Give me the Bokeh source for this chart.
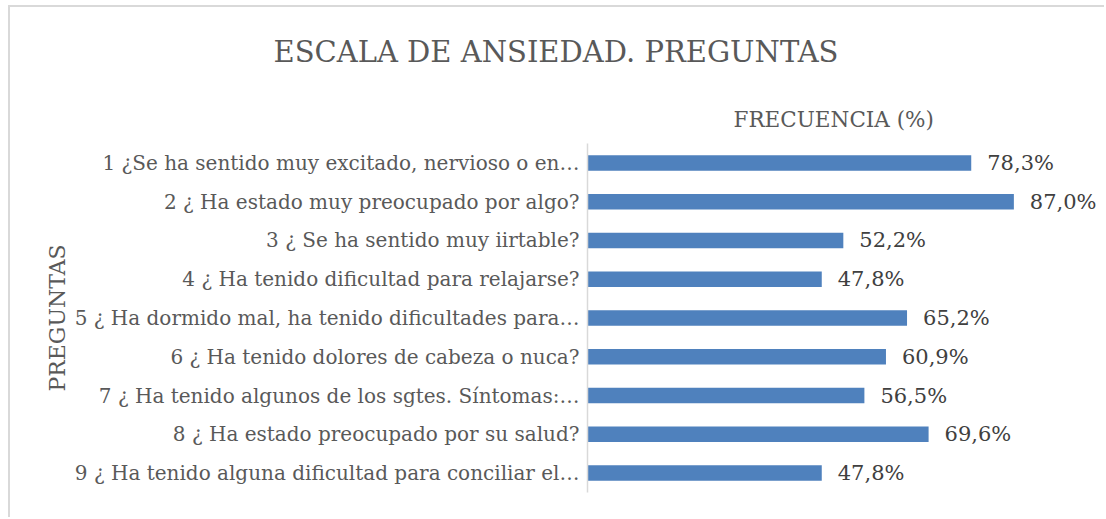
from bokeh.plotting import figure
from bokeh.models import ColumnDataSource, FactorRange, LabelSet, Range1d, Title
from bokeh.embed import file_html
from bokeh.resources import INLINE
from bokeh.core.properties import value

questions = [
    "1 ¿Se ha sentido muy excitado, nervioso o en…",
    "2 ¿ Ha estado muy preocupado por algo?",
    "3 ¿ Se ha sentido muy iirtable?",
    "4 ¿ Ha tenido dificultad para relajarse?",
    "5 ¿ Ha dormido mal, ha tenido dificultades para…",
    "6 ¿ Ha tenido dolores de cabeza o nuca?",
    "7 ¿ Ha tenido algunos de los sgtes. Síntomas:…",
    "8 ¿ Ha estado preocupado por su salud?",
    "9 ¿ Ha tenido alguna dificultad para conciliar el…",
]
frecuencia = [78.3, 87.0, 52.2, 47.8, 65.2, 60.9, 56.5, 69.6, 47.8]

title_text = "ESCALA DE ANSIEDAD. PREGUNTAS"
x_title = "FRECUENCIA (%)"
y_title = "PREGUNTAS"

FONT = "DejaVu Serif"

labels = [f"{v:.1f}%".replace(".", ",") for v in frecuencia]
src = ColumnDataSource(dict(q=questions, v=frecuencia, lbl=labels))

p = figure(
    width=1096, height=512,
    title=None,
    y_range=FactorRange(*reversed(questions)),
    x_range=Range1d(0, 105.9),
    x_axis_location=None,
    output_backend="svg", toolbar_location=None,
    min_border_left=577, min_border_right=0,
    min_border_top=136, min_border_bottom=27,
)
# chart-area border on the left and top edges
p.styles = {"margin-left": "10px", "margin-top": "7px",
            "box-shadow": "-2px -2px 0 #d9d9d9"}
p.outline_line_color = None
p.xgrid.visible = False
p.ygrid.visible = False

# axis title for x (shown above the bars)
xt = Title(text=x_title, text_font=FONT, text_font_size="21.5px",
           text_font_style="normal", text_color="#595959",
           align="left", offset=146, standoff=24)
p.add_layout(xt, "above")

# main title
mt = Title(text=title_text, text_font=FONT, text_font_size="29px",
           text_font_style="normal", text_color="#595959",
           align="left", offset=-314, standoff=48)
p.add_layout(mt, "above")

ya = p.yaxis[0]
ya.axis_line_color = "#d9d9d9"
ya.axis_line_width = 1.5
ya.major_tick_line_color = None
ya.minor_tick_line_color = None
ya.major_label_text_font = FONT
ya.major_label_text_font_size = "20px"
ya.major_label_text_color = "#595959"
ya.major_label_standoff = 2
ya.axis_label = y_title
ya.axis_label_text_font = FONT
ya.axis_label_text_font_size = "22px"
ya.axis_label_text_font_style = "normal"
ya.axis_label_text_color = "#595959"
ya.axis_label_standoff = 2

p.hbar(y="q", right="v", height=0.4, left=0, source=src,
       fill_color="#4f81bd", line_color=None)

p.add_layout(LabelSet(x="v", y="q", text="lbl", source=src, x_offset=16,
                      text_baseline="middle", text_font=value(FONT),
                      text_font_size="21px", text_color="#404040"))

open("out.html", "w").write(file_html(p, INLINE))
